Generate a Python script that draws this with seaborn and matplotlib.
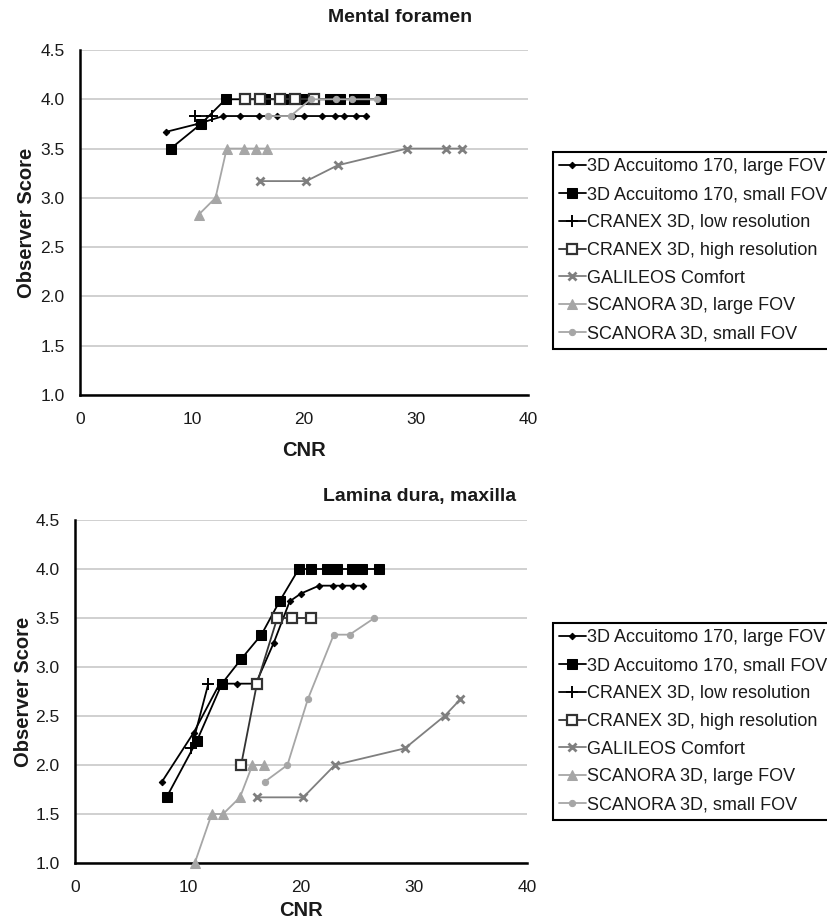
import matplotlib
matplotlib.use("Agg")
import matplotlib.pyplot as plt
import seaborn as sns
import numpy as np

# ---------------- data ----------------
series_names = [
    "3D Accuitomo 170, large FOV",
    "3D Accuitomo 170, small FOV",
    "CRANEX 3D, low resolution",
    "CRANEX 3D, high resolution",
    "GALILEOS Comfort",
    "SCANORA 3D, large FOV",
    "SCANORA 3D, small FOV",
]

cnr_accu_large = [7.7, 10.5, 12.8, 14.3, 16.0, 17.6, 19.0, 20.0, 21.6, 22.8, 23.6, 24.6, 25.5]
cnr_accu_small = [8.1, 10.8, 13.0, 14.7, 16.5, 18.1, 19.8, 20.9, 22.3, 23.2, 24.5, 25.4, 26.9]
cnr_cranex_low = [10.3, 11.8]
cnr_cranex_high = [14.7, 16.1, 17.9, 19.2, 20.9]
cnr_galileos = [16.1, 20.2, 23.0, 29.2, 32.7, 34.1]
cnr_scanora_large = [10.6, 12.1, 13.1, 14.6, 15.7, 16.7]
cnr_scanora_small = [16.8, 18.8, 20.6, 22.9, 24.3, 26.5]

# Mental foramen scores
mf_accu_large = [3.67, 3.75, 3.83, 3.83, 3.83, 3.83, 3.83, 3.83, 3.83, 3.83, 3.83, 3.83, 3.83]
mf_accu_small = [3.5, 3.75, 4.0, 4.0, 4.0, 4.0, 4.0, 4.0, 4.0, 4.0, 4.0, 4.0, 4.0]
mf_cranex_low = [3.83, 3.83]
mf_cranex_high = [4.0, 4.0, 4.0, 4.0, 4.0]
mf_galileos = [3.17, 3.17, 3.33, 3.5, 3.5, 3.5]
mf_scanora_large = [2.83, 3.0, 3.5, 3.5, 3.5, 3.5]
mf_scanora_small = [3.83, 3.83, 4.0, 4.0, 4.0, 4.0]

# Lamina dura, maxilla scores
ld_accu_large = [1.83, 2.33, 2.83, 2.83, 2.83, 3.25, 3.67, 3.75, 3.83, 3.83, 3.83, 3.83, 3.83]
ld_accu_small = [1.67, 2.25, 2.83, 3.08, 3.33, 3.67, 4.0, 4.0, 4.0, 4.0, 4.0, 4.0, 4.0]
ld_cranex_low = [2.17, 2.83]
ld_cranex_high = [2.0, 2.83, 3.5, 3.5, 3.5]
ld_galileos = [1.67, 1.67, 2.0, 2.17, 2.5, 2.67]
ld_scanora_large = [1.0, 1.5, 1.5, 1.67, 2.0, 2.0]
ld_scanora_small = [1.83, 2.0, 2.67, 3.33, 3.33, 3.5]

panel_titles = ["Mental foramen", "Lamina dura, maxilla"]
x_ticks = [0, 10, 20, 30, 40]
y_ticks = [1.0, 1.5, 2.0, 2.5, 3.0, 3.5, 4.0, 4.5]

cnr_all = [cnr_accu_large, cnr_accu_small, cnr_cranex_low, cnr_cranex_high,
           cnr_galileos, cnr_scanora_large, cnr_scanora_small]
mf_all = [mf_accu_large, mf_accu_small, mf_cranex_low, mf_cranex_high,
          mf_galileos, mf_scanora_large, mf_scanora_small]
ld_all = [ld_accu_large, ld_accu_small, ld_cranex_low, ld_cranex_high,
          ld_galileos, ld_scanora_large, ld_scanora_small]

# ---------------- styles ----------------
BLK = "#000000"
DARK = "#333333"
MID = "#7f7f7f"
LIGHT = "#a6a6a6"
styles = [
    dict(color=BLK, marker="D", markersize=3.3, markerfacecolor=BLK, markeredgecolor=BLK, linewidth=1.3),
    dict(color=BLK, marker="s", markersize=6.5, markerfacecolor=BLK, markeredgecolor=BLK, linewidth=1.3),
    dict(color=BLK, marker="+", markersize=8, markeredgewidth=1.4, markeredgecolor=BLK, linewidth=1.3),
    dict(color=DARK, marker="s", markersize=6.5, markerfacecolor="white", markeredgecolor=DARK,
         markeredgewidth=1.6, linewidth=1.3),
    dict(color=MID, marker="x", markersize=5.5, markeredgewidth=2.0, markeredgecolor=MID, linewidth=1.3),
    dict(color=LIGHT, marker="^", markersize=6.5, markerfacecolor=LIGHT, markeredgecolor=LIGHT, linewidth=1.3),
    dict(color=LIGHT, marker="o", markersize=4.5, markerfacecolor=LIGHT, markeredgecolor=LIGHT, linewidth=1.3),
]

sns.set_style("white")
plt.rcParams["font.family"] = ["Liberation Sans", "DejaVu Sans"]

W, H = 827, 919
fig = plt.figure(figsize=(W / 100, H / 100), dpi=100)

# axes rectangles in pixels: left, top, right, bottom
rects = [(80, 50, 528, 395), (75, 520, 527, 863)]
legend_tops = [152, 623]
title_pos = [(400, 18), (420, 497)]
xlabel_y = [450, 911]
ylabel_right = [36, 33]

for p, (scores_all, rect) in enumerate(zip([mf_all, ld_all], rects)):
    l, t, r, b = rect
    ax = fig.add_axes([l / W, 1 - b / H, (r - l) / W, (b - t) / H])
    for i, (xs, ys) in enumerate(zip(cnr_all, scores_all)):
        sns.lineplot(x=xs, y=ys, ax=ax, sort=False, estimator=None,
                     label=series_names[i], clip_on=False, zorder=3 + i, **styles[i])
    ax.set_xlim(0, 40)
    ax.set_ylim(1.0, 4.5)
    ax.set_xticks(x_ticks)
    ax.set_yticks(y_ticks)
    ax.set_yticklabels([f"{v:.1f}" for v in y_ticks])
    ax.yaxis.grid(True, color="#c8c8c8", linewidth=1.2)
    ax.xaxis.grid(False)
    ax.set_axisbelow(True)
    for s in ["top", "right"]:
        ax.spines[s].set_visible(False)
    for s in ["left", "bottom"]:
        ax.spines[s].set_color("black")
        ax.spines[s].set_linewidth(1.8)
        ax.spines[s].set_zorder(2)
    ax.tick_params(axis="both", direction="out", length=4, width=1.5, color="black",
                   labelsize=12.5, labelcolor="#1a1a1a")
    ax.tick_params(axis="x", pad=8.5)
    ax.tick_params(axis="y", pad=7)
    ax.set_xlabel("")
    ax.set_ylabel("Observer Score", fontsize=14.5, fontweight="bold", color="#1a1a1a")
    ax.yaxis.set_label_coords((ylabel_right[p] - l) / (r - l), 0.5)
    fig.text(((l + r) / 2) / W, 1 - xlabel_y[p] / H, "CNR", ha="center", va="center",
             fontsize=14.5, fontweight="bold", color="#1a1a1a")
    fig.text(title_pos[p][0] / W, 1 - title_pos[p][1] / H, panel_titles[p], ha="center",
             va="center", fontsize=14, fontweight="bold", color="#1a1a1a")

    handles, labels = ax.get_legend_handles_labels()
    if ax.get_legend() is not None:
        ax.get_legend().remove()
    leg = fig.legend(handles, labels, loc="upper left",
                     bbox_to_anchor=(553 / W, 1 - legend_tops[p] / H),
                     bbox_transform=fig.transFigure,
                     fontsize=13, frameon=True, fancybox=False, shadow=False,
                     edgecolor="black", framealpha=1, borderpad=0.35,
                     handlelength=1.45, handletextpad=0.1, labelspacing=0.6,
                     borderaxespad=0)
    leg.get_frame().set_linewidth(1.5)
    for txt in leg.get_texts():
        txt.set_color("#1a1a1a")

fig.savefig("out.png", dpi=100)
